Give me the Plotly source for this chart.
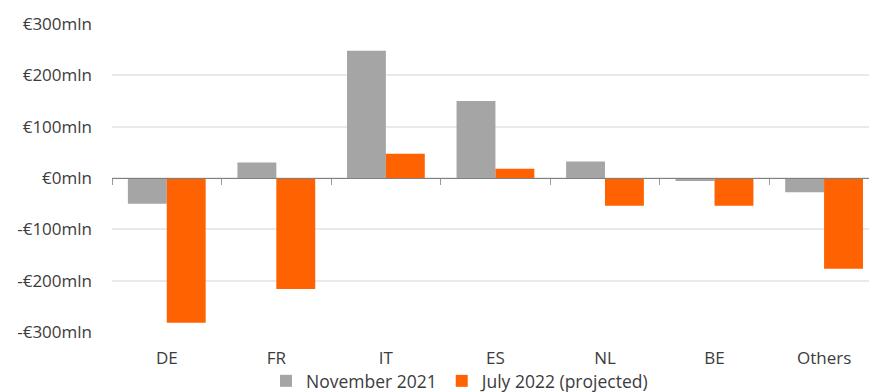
import plotly.graph_objects as go

countries = ["DE", "FR", "IT", "ES", "NL", "BE", "Others"]
nov_2021 = [-50, 30, 248, 150, 32, -6, -28]
jul_2022 = [-282, -216, 47, 18, -54, -54, -177]
y_ticks = [-300, -200, -100, 0, 100, 200, 300]
y_labels = ["-€300mln", "-€200mln", "-€100mln", "€0mln", "€100mln", "€200mln", "€300mln"]

GRAY = "#a5a5a5"
ORANGE = "#ff6200"
TEXT = "#3c3c3c"
FONT = "Open Sans"

x_range = [-0.5, 6.41]

fig = go.Figure()
fig.add_trace(go.Bar(x=countries, y=nov_2021, name="November 2021",
                     marker=dict(color=GRAY, line=dict(width=0))))
fig.add_trace(go.Bar(x=countries, y=jul_2022, name="July 2022 (projected)",
                     marker=dict(color=ORANGE, line=dict(width=0))))
# invisible trace carrying the baseline axis drawn at zero
fig.add_trace(go.Scatter(x=countries, y=[0] * len(countries), xaxis="x2",
                         mode="lines", line=dict(width=0), showlegend=False,
                         hoverinfo="skip"))

fig.update_layout(
    width=869, height=392,
    margin=dict(l=112, r=0, t=24, b=60, autoexpand=False),
    paper_bgcolor="white", plot_bgcolor="white",
    barmode="group", bargap=0.29, bargroupgap=0,
    font=dict(family=FONT, size=17, color=TEXT),
    xaxis=dict(type="category", range=x_range, showgrid=False, showline=False,
               ticks="", zeroline=False, tickfont=dict(size=17, color=TEXT),
               ticklabelstandoff=14),
    xaxis2=dict(type="category", overlaying="x", anchor="free", position=0.5,
                side="bottom", range=x_range, showline=True, linecolor="#7f7f7f",
                linewidth=1, ticks="outside", tickson="boundaries", ticklen=6,
                tickcolor="#9a9a9a", tickwidth=1, showticklabels=False,
                showgrid=False, zeroline=False),
    yaxis=dict(range=[-300, 300], tickvals=y_ticks, ticktext=y_labels,
               showgrid=True, gridcolor="#e9e9e9", gridwidth=1.5,
               zeroline=False, showline=False, ticks="",
               tickfont=dict(size=17, color=TEXT), ticklabelstandoff=19),
    legend=dict(orientation="h", x=(266 - 112) / 757, xanchor="left", y=-0.159,
                yanchor="middle", font=dict(size=17.5, color=TEXT),
                bgcolor="rgba(0,0,0,0)", itemwidth=30, traceorder="normal"),
    showlegend=True,
)

fig.write_html("out.html")
